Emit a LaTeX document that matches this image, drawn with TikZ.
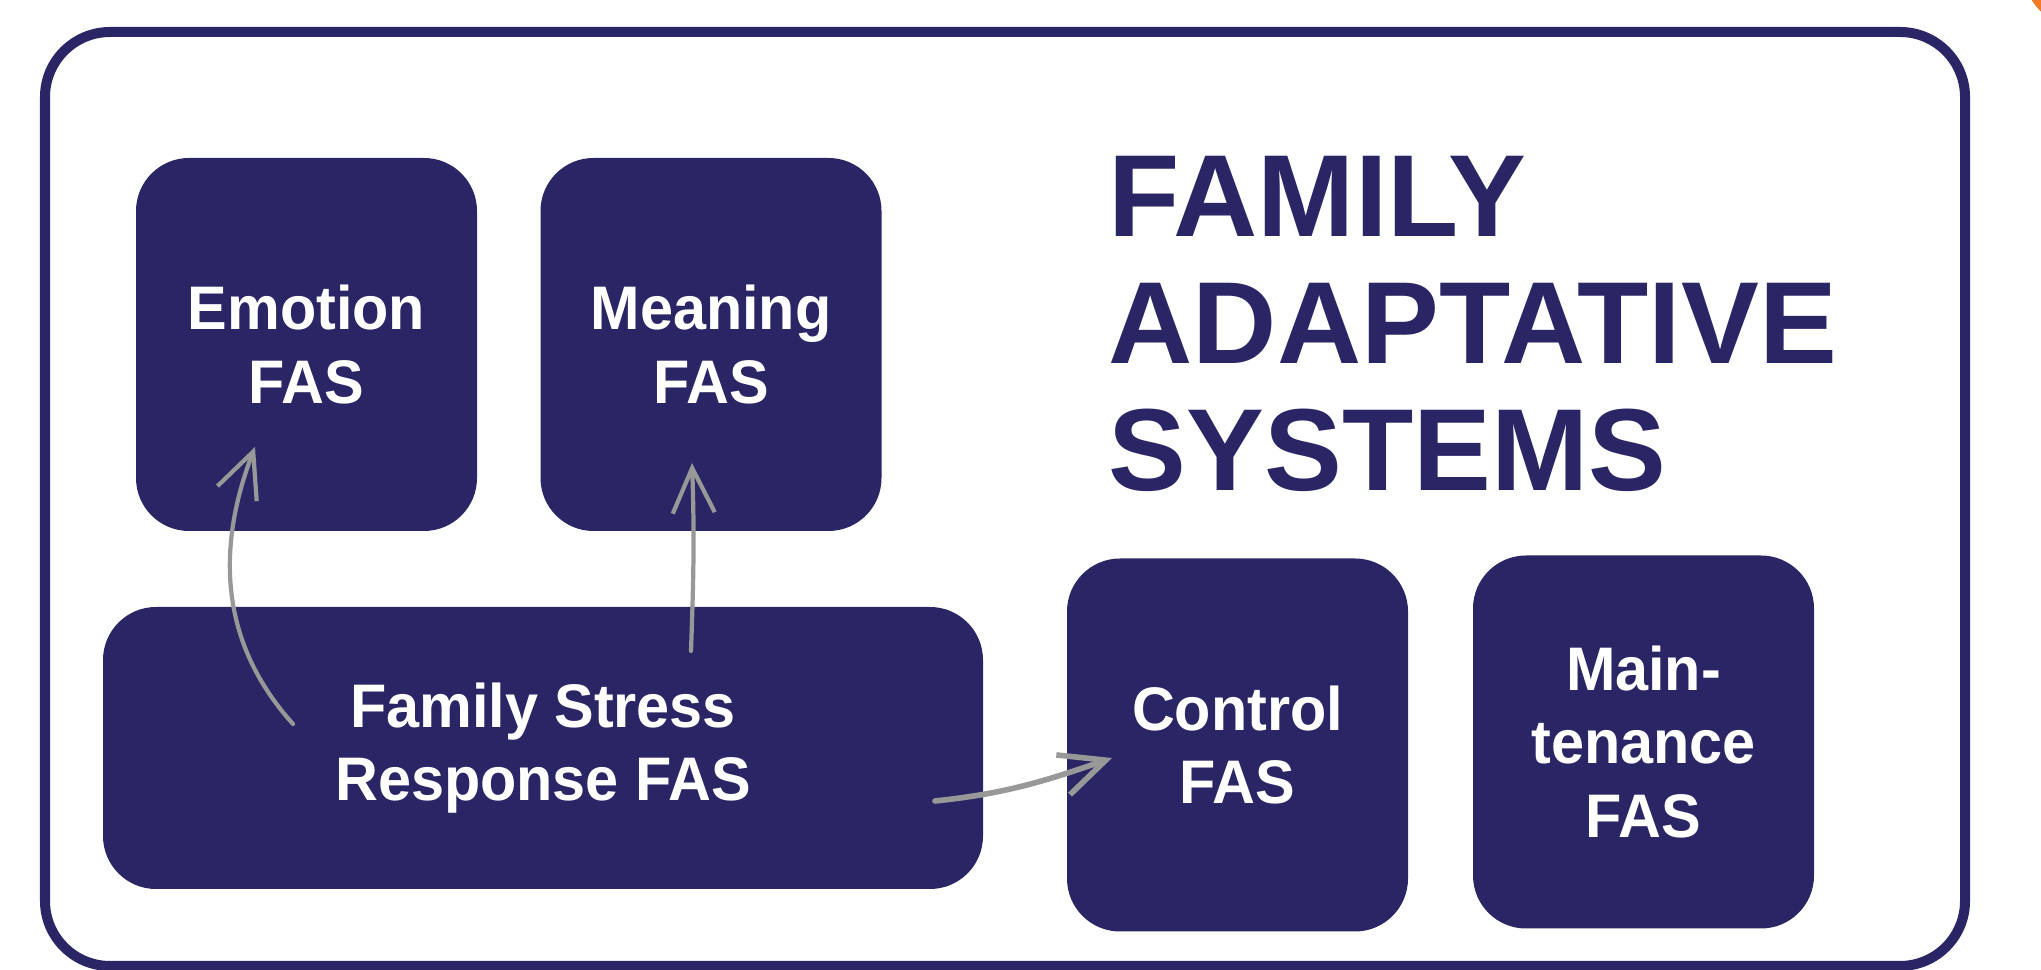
\documentclass[tikz,border=0pt]{standalone}
\usepackage{fontspec}
\setmainfont{Liberation Sans}
\newfontfamily\boxfont[FakeStretch=0.965]{Liberation Sans}
\usetikzlibrary{arrows.meta}
\definecolor{fasblue}{RGB}{42,38,102}
\definecolor{fasgrey}{RGB}{152,152,152}
\definecolor{cornerorange}{RGB}{240,122,40}
\tikzset{
  fas/.style={fill=fasblue, text=white, rounded corners=0.53cm, align=center, inner sep=0pt,
    minimum width=3.41cm, minimum height=3.73cm, font=\boxfont\fontsize{17.5}{20.8}\selectfont\bfseries},
  link/.style={draw=fasgrey, line width=1.2pt, line cap=round,
    -{Straight Barb[length=0.45cm, width=0.42cm]}}
}

\begin{document}
\begin{tikzpicture}
        \clip (0,0) rectangle (20.41,9.70);
        \fill[cornerorange] (20.75,9.95) circle (0.5);
        \draw[fasblue, line width=2.85pt, rounded corners=0.65cm] (0.45,0.04) rectangle (19.65,9.38);

        \node[fas] (emotion) at (3.065,6.255) {Emotion\\FAS};
        \node[fas] (meaning) at (7.11,6.255) {Meaning\\FAS};
        \node[fas, minimum width=8.8cm, minimum height=2.82cm] (stress) at (5.43,2.22) {Family Stress\\Response FAS};
        \node[fas] (control) at (12.375,2.25) {Control\\FAS};
        \node[fas] (maint) at (16.435,2.28) {Main-\\tenance\\FAS};

        \node[anchor=north west, inner sep=0pt, align=left, text=fasblue,
          font=\fontsize{33.2}{36.1}\selectfont\bfseries] (title) at (11.08,8.14) {FAMILY\\ADAPTATIVE\\SYSTEMS};

        % arrow ends sit inside the boxes
        \coordinate (s1) at (2.93,2.46);  \coordinate (e1) at (2.55,5.23);
        \coordinate (s2) at (6.91,3.19);  \coordinate (e2) at (6.92,5.07);
        \coordinate (s3) at (9.35,1.69);  \coordinate (e3) at (11.12,2.12);
        \foreach \a/\b/\o/\i in {s1/e1/132/249, s2/e2/88/272}{
        \draw[link] (\a) to[out=\o, in=\i] (\b);
        }
        \draw[link, line width=1.6pt] (s3) to[out=6, in=199] (e3);
\end{tikzpicture}
\end{document}
